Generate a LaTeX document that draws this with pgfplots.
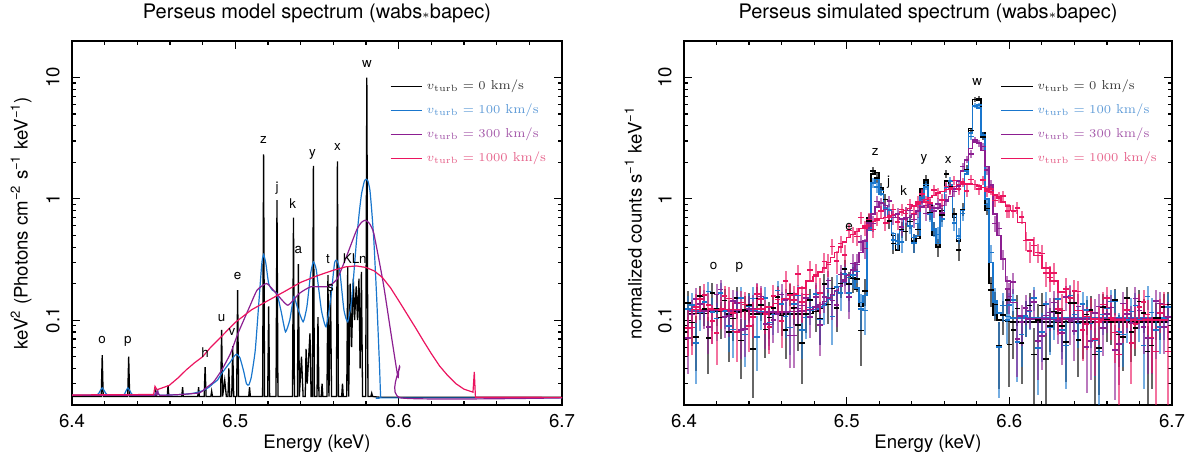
\documentclass[border=0pt]{standalone}
\usepackage{fontspec}
\setsansfont{TeX Gyre Heros}
\usepackage{graphicx}
\usepackage{pgfplots}
\usepackage{pgfplotstable}
\pgfplotsset{compat=1.18}
\definecolor{cblk}{RGB}{0,0,0}
\definecolor{cblu}{RGB}{25,118,205}
\definecolor{cpur}{RGB}{140,30,145}
\definecolor{cpnk}{RGB}{235,20,95}
\definecolor{lblk}{RGB}{60,60,60}
\definecolor{lblu}{RGB}{95,155,215}
\definecolor{lpur}{RGB}{165,90,170}
\definecolor{lpnk}{RGB}{230,100,140}
\tikzset{lbl/.style={font=\sffamily\fontsize{6.7}{8}\selectfont, inner sep=0pt}}

\pgfplotstableread{
x m y e
6.4025 0.113 0.138 0.035
6.4075 0.113 0.073 0.035
6.4125 0.113 0.124 0.035
6.4175 0.118 0.168 0.035
6.4225 0.119 0.105 0.035
6.4275 0.112 0.080 0.035
6.4325 0.117 0.153 0.035
6.4375 0.118 0.122 0.035
6.4425 0.112 0.058 0.035
6.4475 0.112 0.134 0.035
6.4525 0.112 0.105 0.035
6.4575 0.112 0.155 0.035
6.4625 0.112 0.083 0.035
6.4675 0.112 0.126 0.035
6.4725 0.112 0.065 0.035
6.4775 0.114 0.146 0.035
6.48125 0.118 0.118 0.038
6.48375 0.125 0.102 0.039
6.48625 0.135 0.199 0.040
6.48875 0.148 0.135 0.042
6.49125 0.160 0.182 0.044
6.49375 0.172 0.126 0.046
6.49625 0.190 0.200 0.048
6.49875 0.210 0.265 0.050
6.50125 0.235 0.198 0.053
6.50375 0.225 0.220 0.052
6.50625 0.180 0.218 0.047
6.50875 0.130 0.082 0.040
6.51125 0.160 0.175 0.044
6.51375 0.700 0.660 0.092
6.51625 1.600 1.700 0.139
6.51875 1.650 1.490 0.141
6.52125 1.200 1.240 0.120
6.52375 0.850 0.990 0.101
6.52625 0.700 0.660 0.092
6.52875 0.500 0.430 0.078
6.53125 0.380 0.450 0.068
6.53375 0.550 0.560 0.082
6.53625 0.680 0.540 0.091
6.53875 0.600 0.650 0.085
6.54125 0.450 0.435 0.074
6.54375 0.470 0.560 0.075
6.54625 1.200 1.100 0.120
6.54875 1.380 1.430 0.129
6.55125 0.900 0.770 0.104
6.55375 0.500 0.570 0.078
6.55625 0.400 0.400 0.070
6.55875 0.800 0.740 0.098
6.56125 1.400 1.610 0.130
6.56375 1.300 1.260 0.125
6.56625 0.700 0.750 0.092
6.56875 0.450 0.380 0.074
6.57125 0.800 0.820 0.098
6.57375 1.600 1.750 0.139
6.57625 3.800 3.650 0.214
6.57875 6.600 6.570 0.283
6.58125 6.500 6.720 0.280
6.58375 3.500 3.250 0.206
6.58625 0.800 0.830 0.098
6.58875 0.200 0.178 0.049
6.59125 0.110 0.135 0.036
6.59375 0.100 0.062 0.035
6.59625 0.099 0.110 0.035
6.59875 0.098 0.147 0.035
6.6025 0.097 0.083 0.035
6.6075 0.097 0.065 0.035
6.6125 0.097 0.132 0.035
6.6175 0.097 0.100 0.035
6.6225 0.097 0.048 0.030
6.6275 0.097 0.118 0.035
6.6325 0.097 0.090 0.035
6.6375 0.097 0.139 0.035
6.6425 0.097 0.069 0.035
6.6475 0.097 0.111 0.035
6.6525 0.097 0.052 0.035
6.6575 0.097 0.128 0.035
6.6625 0.097 0.097 0.035
6.6675 0.097 0.076 0.035
6.6725 0.097 0.153 0.035
6.6775 0.097 0.086 0.035
6.6825 0.097 0.114 0.035
6.6875 0.097 0.062 0.035
6.6925 0.097 0.104 0.035
6.6975 0.097 0.135 0.035
}\tblack

\pgfplotstableread{
x y e
6.405 0.096 0.035
6.410 0.158 0.035
6.415 0.071 0.035
6.420 0.125 0.035
6.425 0.145 0.035
6.430 0.103 0.035
6.435 0.068 0.035
6.440 0.133 0.035
6.445 0.151 0.035
6.450 0.084 0.035
6.455 0.126 0.035
6.460 0.109 0.035
6.465 0.165 0.035
6.470 0.091 0.035
6.475 0.113 0.035
6.600 0.063 0.035
6.605 0.125 0.035
6.610 0.108 0.035
6.615 0.052 0.035
6.620 0.132 0.035
6.625 0.090 0.035
6.630 0.115 0.035
6.635 0.066 0.035
6.640 0.139 0.035
6.645 0.083 0.035
6.650 0.122 0.035
6.655 0.059 0.035
6.660 0.101 0.035
6.665 0.146 0.035
6.670 0.073 0.035
6.675 0.080 0.035
6.680 0.143 0.035
6.685 0.055 0.035
6.690 0.104 0.035
6.695 0.129 0.035
}\tblackx

\pgfplotstableread{
x m y e
6.4025 0.119 0.123 0.035
6.4075 0.119 0.065 0.035
6.4125 0.120 0.142 0.035
6.4175 0.124 0.117 0.035
6.4225 0.124 0.167 0.035
6.4275 0.119 0.090 0.035
6.4325 0.123 0.137 0.035
6.4375 0.123 0.076 0.035
6.4425 0.119 0.151 0.035
6.4475 0.118 0.118 0.035
6.4525 0.118 0.096 0.035
6.4575 0.118 0.176 0.035
6.4625 0.118 0.107 0.035
6.4675 0.118 0.136 0.035
6.4725 0.119 0.083 0.035
6.4775 0.120 0.127 0.035
6.48125 0.122 0.164 0.038
6.48375 0.128 0.101 0.039
6.48625 0.136 0.132 0.041
6.48875 0.148 0.182 0.042
6.49125 0.160 0.107 0.044
6.49375 0.172 0.188 0.046
6.49625 0.190 0.168 0.048
6.49875 0.205 0.240 0.050
6.50125 0.225 0.168 0.052
6.50375 0.220 0.236 0.052
6.50625 0.185 0.251 0.047
6.50875 0.140 0.124 0.041
6.51125 0.160 0.120 0.044
6.51375 0.550 0.630 0.082
6.51625 1.350 1.360 0.128
6.51875 1.450 1.250 0.132
6.52125 1.100 1.170 0.115
6.52375 0.850 0.830 0.101
6.52625 0.700 0.810 0.092
6.52875 0.520 0.457 0.079
6.53125 0.420 0.448 0.071
6.53375 0.550 0.443 0.082
6.53625 0.680 0.760 0.091
6.53875 0.600 0.600 0.085
6.54125 0.480 0.434 0.076
6.54375 0.500 0.625 0.078
6.54625 1.050 1.016 0.113
6.54875 1.250 1.310 0.123
6.55125 0.850 0.750 0.101
6.55375 0.550 0.566 0.082
6.55625 0.430 0.510 0.072
6.55875 0.750 0.680 0.095
6.56125 1.250 1.240 0.123
6.56375 1.300 1.400 0.125
6.56625 0.750 0.636 0.095
6.56875 0.470 0.496 0.075
6.57125 0.800 0.756 0.098
6.57375 1.600 1.700 0.139
6.57625 3.500 3.270 0.206
6.57875 5.800 5.880 0.265
6.58125 5.600 5.960 0.260
6.58375 3.400 3.320 0.203
6.58625 1.000 0.900 0.110
6.58875 0.300 0.360 0.060
6.59125 0.140 0.144 0.041
6.59375 0.115 0.060 0.037
6.59625 0.110 0.132 0.036
6.59875 0.107 0.100 0.036
6.6025 0.104 0.146 0.035
6.6075 0.104 0.076 0.035
6.6125 0.104 0.118 0.035
6.6175 0.104 0.059 0.035
6.6225 0.104 0.136 0.035
6.6275 0.104 0.104 0.035
6.6325 0.104 0.083 0.035
6.6375 0.104 0.160 0.035
6.6425 0.104 0.094 0.035
6.6475 0.104 0.122 0.035
6.6525 0.104 0.069 0.035
6.6575 0.104 0.111 0.035
6.6625 0.104 0.143 0.035
6.6675 0.104 0.080 0.035
6.6725 0.104 0.100 0.035
6.6775 0.104 0.132 0.035
6.6825 0.104 0.062 0.035
6.6875 0.104 0.116 0.035
6.6925 0.104 0.088 0.035
6.6975 0.104 0.129 0.035
}\tblue

\pgfplotstableread{
x y e
6.405 0.133 0.035
6.410 0.116 0.035
6.415 0.172 0.035
6.420 0.103 0.035
6.425 0.119 0.035
6.430 0.084 0.035
6.435 0.152 0.035
6.440 0.130 0.035
6.445 0.073 0.035
6.450 0.153 0.035
6.455 0.111 0.035
6.460 0.136 0.035
6.465 0.087 0.035
6.470 0.160 0.035
6.475 0.105 0.035
6.600 0.133 0.035
6.605 0.066 0.035
6.610 0.108 0.035
6.615 0.153 0.035
6.620 0.080 0.035
6.625 0.087 0.035
6.630 0.150 0.035
6.635 0.062 0.035
6.640 0.111 0.035
6.645 0.136 0.035
6.650 0.094 0.035
6.655 0.055 0.035
6.660 0.125 0.035
6.665 0.143 0.035
6.670 0.076 0.035
6.675 0.118 0.035
6.680 0.101 0.035
6.685 0.157 0.035
6.690 0.083 0.035
6.695 0.104 0.035
}\tbluex

\pgfplotstableread{
x m y e
6.4025 0.118 0.071 0.035
6.4075 0.118 0.150 0.035
6.4125 0.119 0.119 0.035
6.4175 0.121 0.099 0.035
6.4225 0.121 0.179 0.035
6.4275 0.119 0.108 0.035
6.4325 0.121 0.139 0.035
6.4375 0.121 0.085 0.035
6.4425 0.118 0.125 0.035
6.4475 0.117 0.157 0.035
6.4525 0.117 0.092 0.035
6.4575 0.117 0.113 0.035
6.4625 0.117 0.146 0.035
6.4675 0.118 0.075 0.035
6.4725 0.119 0.132 0.035
6.4775 0.122 0.106 0.035
6.48125 0.128 0.155 0.039
6.48375 0.135 0.091 0.040
6.48625 0.143 0.156 0.042
6.48875 0.152 0.212 0.043
6.49125 0.163 0.145 0.044
6.49375 0.175 0.134 0.046
6.49625 0.190 0.238 0.048
6.49875 0.210 0.215 0.050
6.50125 0.235 0.155 0.053
6.50375 0.260 0.294 0.056
6.50625 0.300 0.288 0.060
6.50875 0.360 0.439 0.066
6.51125 0.450 0.391 0.074
6.51375 0.600 0.634 0.085
6.51625 0.750 0.627 0.095
6.51875 0.860 0.952 0.102
6.52125 0.920 0.920 0.105
6.52375 0.880 0.818 0.103
6.52625 0.800 0.957 0.098
6.52875 0.730 0.702 0.094
6.53125 0.700 0.746 0.092
6.53375 0.680 0.589 0.091
6.53625 0.680 0.698 0.091
6.53875 0.700 0.801 0.092
6.54125 0.740 0.674 0.095
6.54375 0.800 0.790 0.098
6.54625 0.860 0.942 0.102
6.54875 0.880 0.756 0.103
6.55125 0.860 0.896 0.102
6.55375 0.840 0.795 0.101
6.55625 0.840 0.911 0.101
6.55875 0.880 0.767 0.103
6.56125 0.950 0.982 0.107
6.56375 1.050 1.208 0.113
6.56625 1.200 1.152 0.120
6.56875 1.400 1.283 0.130
6.57125 1.700 1.843 0.143
6.57375 2.100 2.116 0.159
6.57625 2.600 2.335 0.177
6.57875 2.950 3.063 0.189
6.58125 2.900 2.863 0.187
6.58375 2.500 2.709 0.174
6.58625 1.850 1.730 0.150
6.58875 1.250 1.300 0.123
6.59125 0.750 0.627 0.095
6.59375 0.500 0.570 0.078
6.59625 0.320 0.320 0.062
6.59875 0.210 0.180 0.050
6.6025 0.140 0.206 0.041
6.6075 0.108 0.097 0.036
6.6125 0.102 0.120 0.035
6.6175 0.102 0.067 0.035
6.6225 0.102 0.109 0.035
6.6275 0.102 0.140 0.035
6.6325 0.102 0.078 0.035
6.6375 0.102 0.098 0.035
6.6425 0.102 0.130 0.035
6.6475 0.102 0.060 0.035
6.6525 0.102 0.114 0.035
6.6575 0.102 0.086 0.035
6.6625 0.102 0.127 0.035
6.6675 0.102 0.064 0.035
6.6725 0.102 0.113 0.035
6.6775 0.102 0.151 0.035
6.6825 0.102 0.088 0.035
6.6875 0.102 0.071 0.035
6.6925 0.102 0.137 0.035
6.6975 0.102 0.106 0.035
}\tpurple

\pgfplotstableread{
x y e
6.405 0.111 0.035
6.410 0.136 0.035
6.415 0.088 0.035
6.420 0.163 0.035
6.425 0.106 0.035
6.430 0.144 0.035
6.435 0.083 0.035
6.440 0.124 0.035
6.445 0.166 0.035
6.450 0.093 0.035
6.455 0.100 0.035
6.460 0.163 0.035
6.465 0.075 0.035
6.470 0.125 0.035
6.475 0.152 0.035
6.600 0.157 0.045
6.605 0.070 0.036
6.610 0.126 0.035
6.615 0.141 0.035
6.620 0.074 0.035
6.625 0.116 0.035
6.630 0.099 0.035
6.635 0.155 0.035
6.640 0.081 0.035
6.645 0.102 0.035
6.650 0.067 0.035
6.655 0.130 0.035
6.660 0.113 0.035
6.665 0.057 0.035
6.670 0.137 0.035
6.675 0.095 0.035
6.680 0.120 0.035
6.685 0.071 0.035
6.690 0.144 0.035
6.695 0.088 0.035
}\tpurplex

\pgfplotstableread{
x m y e
6.4025 0.122 0.086 0.035
6.4075 0.122 0.129 0.035
6.4125 0.122 0.162 0.035
6.4175 0.124 0.099 0.035
6.4225 0.124 0.120 0.035
6.4275 0.122 0.151 0.035
6.4325 0.123 0.080 0.035
6.4375 0.122 0.135 0.035
6.4425 0.122 0.106 0.035
6.4475 0.124 0.149 0.035
6.4525 0.128 0.088 0.035
6.4575 0.137 0.148 0.038
6.4625 0.150 0.210 0.043
6.4675 0.165 0.147 0.045
6.4725 0.185 0.142 0.048
6.4775 0.210 0.260 0.050
6.48125 0.230 0.235 0.053
6.48375 0.250 0.168 0.055
6.48625 0.270 0.304 0.057
6.48875 0.300 0.288 0.060
6.49125 0.330 0.406 0.063
6.49375 0.360 0.307 0.066
6.49625 0.400 0.428 0.070
6.49875 0.440 0.345 0.073
6.50125 0.480 0.548 0.076
6.50375 0.510 0.510 0.079
6.50625 0.540 0.491 0.081
6.50875 0.570 0.703 0.083
6.51125 0.600 0.575 0.085
6.51375 0.630 0.674 0.087
6.51625 0.650 0.561 0.089
6.51875 0.670 0.688 0.090
6.52125 0.690 0.790 0.091
6.52375 0.700 0.636 0.092
6.52625 0.720 0.711 0.093
6.52875 0.740 0.816 0.095
6.53125 0.760 0.645 0.096
6.53375 0.780 0.814 0.097
6.53625 0.800 0.756 0.098
6.53875 0.830 0.900 0.100
6.54125 0.870 0.757 0.103
6.54375 0.910 0.942 0.105
6.54625 0.950 1.100 0.107
6.54875 0.990 0.946 0.109
6.55125 1.030 0.929 0.112
6.55375 1.070 1.184 0.114
6.55625 1.110 1.122 0.116
6.55875 1.150 0.973 0.118
6.56125 1.190 1.262 0.120
6.56375 1.230 1.206 0.122
6.56625 1.270 1.419 0.124
6.56875 1.300 1.200 0.125
6.57125 1.320 1.370 0.126
6.57375 1.330 1.165 0.127
6.57625 1.330 1.444 0.127
6.57875 1.310 1.310 0.126
6.58125 1.280 1.206 0.124
6.58375 1.240 1.435 0.122
6.58625 1.200 1.164 0.120
6.58875 1.140 1.199 0.117
6.59125 1.080 0.966 0.114
6.59375 1.010 1.032 0.110
6.59625 0.940 1.058 0.107
6.59875 0.870 0.798 0.103
6.6025 0.800 0.790 0.098
6.6075 0.640 0.710 0.088
6.6125 0.460 0.370 0.075
6.6175 0.340 0.362 0.064
6.6225 0.270 0.244 0.057
6.6275 0.210 0.245 0.050
6.6325 0.170 0.120 0.045
6.6375 0.140 0.152 0.041
6.6425 0.120 0.173 0.038
6.6475 0.107 0.093 0.036
6.6525 0.102 0.070 0.035
6.6575 0.100 0.135 0.035
6.6625 0.100 0.104 0.035
6.6675 0.100 0.052 0.035
6.6725 0.100 0.121 0.035
6.6775 0.100 0.093 0.035
6.6825 0.100 0.142 0.035
6.6875 0.100 0.072 0.035
6.6925 0.100 0.114 0.035
6.6975 0.100 0.055 0.035
}\tpink

\pgfplotstableread{
x y e
6.405 0.087 0.035
6.410 0.150 0.035
6.415 0.134 0.035
6.420 0.078 0.035
6.425 0.158 0.035
6.430 0.115 0.035
6.435 0.140 0.035
6.440 0.090 0.035
6.445 0.165 0.035
6.450 0.112 0.035
6.455 0.158 0.037
6.460 0.099 0.040
6.465 0.161 0.043
6.470 0.239 0.046
6.475 0.163 0.049
6.600 0.800 0.101
6.605 0.841 0.093
6.610 0.452 0.082
6.615 0.414 0.070
6.620 0.354 0.060
6.625 0.224 0.054
6.630 0.123 0.048
6.635 0.181 0.043
6.640 0.174 0.040
6.645 0.083 0.037
6.650 0.118 0.035
6.655 0.097 0.035
6.660 0.153 0.035
6.665 0.079 0.035
6.670 0.100 0.035
6.675 0.065 0.035
6.680 0.128 0.035
6.685 0.111 0.035
6.690 0.055 0.035
6.695 0.135 0.035
}\tpinkx

\pgfplotsset{
  every axis/.append style={
    scale only axis, height=182pt,
    xmin=6.4, xmax=6.7, ymode=log, ymin=0.02, ymax=20,
    xtick={6.4,6.5,6.6,6.7}, xticklabels={6.4,6.5,6.6,6.7},
    minor xtick={6.42,6.44,6.46,6.48,6.52,6.54,6.56,6.58,6.62,6.64,6.66,6.68},
    ytick={0.1,1,10},
    yticklabels={\rotatebox{90}{0.1},\rotatebox{90}{1},\rotatebox{90}{10}},
    minor ytick={0.03,0.04,0.05,0.06,0.07,0.08,0.09,0.2,0.3,0.4,0.5,0.6,0.7,0.8,0.9,2,3,4,5,6,7,8,9},
    tick align=inside, major tick length=4pt, minor tick length=2pt,
    tick style={black, line width=0.6pt},
    axis line style={line width=1pt},
    tick label style={font=\sffamily\fontsize{9.3}{11}\selectfont},
    label style={font=\sffamily\fontsize{9.3}{11}\selectfont},
    xticklabel style={anchor=center, yshift=-8pt},
    yticklabel style={anchor=center, xshift=-9.5pt},
    xlabel style={at={(axis description cs:0.5,-0.107)}, anchor=center},
    ylabel style={at={(axis description cs:-0.104,0.5)}, anchor=center},
    legend style={at={(0.648,0.905)}, anchor=north west, draw=none, fill=none,
      inner sep=0pt, font=\rmfamily\fontsize{6.5}{7.5}\selectfont, row sep=1.6pt},
    legend cell align=left,
    legend image code/.code={\draw[#1] (0pt,0pt) -- (15.8pt,0pt);},
  }
}

\begin{document}
\begin{tikzpicture}
\useasboundingbox (0,0) rectangle (599pt,229.5pt);

\node[font=\sffamily\fontsize{10}{12}\selectfont] at (158.5pt,223pt)
  {Perseus model spectrum (wabs{\fontsize{6.5}{6.5}\selectfont$\ast$}bapec)};
\node[font=\sffamily\fontsize{10}{12}\selectfont] at (464pt,223pt)
  {Perseus simulated spectrum (wabs{\fontsize{6.5}{6.5}\selectfont$\ast$}bapec)};

% ---------------- left panel ----------------
\begin{axis}[at={(36pt,27pt)}, anchor=south west, width=245pt,
  xlabel={Energy (keV)},
  ylabel={keV\textsuperscript{2} (Photons cm\textsuperscript{−2} s\textsuperscript{−1} keV\textsuperscript{−1})}]

\addlegendimage{cblk, line width=0.6pt}
\addlegendentry{\textcolor{lblk}{$v_{\mathrm{turb}}=0$ km/s}}
\addlegendimage{cblu, line width=0.6pt}
\addlegendentry{\textcolor{lblu}{$v_{\mathrm{turb}}=100$ km/s}}
\addlegendimage{cpur, line width=0.6pt}
\addlegendentry{\textcolor{lpur}{$v_{\mathrm{turb}}=300$ km/s}}
\addlegendimage{cpnk, line width=0.6pt}
\addlegendentry{\textcolor{lpnk}{$v_{\mathrm{turb}}=1000$ km/s}}

% black: 0 km/s
\addplot[cblk, line width=0.65pt, forget plot] coordinates {
(6.4000,0.0235)(6.4179,0.0235)(6.4185,0.0515)(6.4191,0.0235)
(6.4341,0.0235)(6.4347,0.050)(6.4353,0.0235)
(6.4508,0.0235)(6.4513,0.026)(6.4518,0.0235)
(6.4583,0.0235)(6.4588,0.029)(6.4593,0.0235)
(6.4672,0.0235)(6.4677,0.028)(6.4682,0.0235)
(6.4770,0.0235)(6.4775,0.028)(6.4780,0.0235)
(6.4809,0.0235)(6.4815,0.041)(6.4821,0.0235)
(6.4850,0.0235)(6.4855,0.026)(6.4860,0.0235)
(6.4910,0.0235)(6.4916,0.083)(6.4922,0.0235)(6.4935,0.032)(6.4945,0.0235)
(6.4955,0.0235)(6.4960,0.040)(6.4966,0.0235)
(6.4978,0.0235)(6.4984,0.061)(6.4990,0.0235)
(6.5008,0.0235)(6.5014,0.177)(6.5020,0.0235)
(6.5082,0.0235)(6.5087,0.028)(6.5092,0.0235)
(6.5167,0.0235)(6.5173,2.33)(6.5179,0.0235)
(6.5198,0.0235)(6.5204,0.13)(6.5210,0.0235)
(6.5249,0.0235)(6.5255,0.975)(6.5261,0.0235)
(6.5350,0.0235)(6.5356,0.70)(6.5362,0.0235)
(6.5380,0.0235)(6.5386,0.29)(6.5392,0.0235)(6.5405,0.05)(6.5415,0.0235)
(6.5428,0.0235)(6.5433,0.058)(6.5440,0.03)(6.5457,0.078)(6.5464,0.0235)
(6.5472,0.0235)(6.5478,1.87)(6.5484,0.0235)
(6.5500,0.0235)(6.5506,0.106)(6.5512,0.0235)
(6.5526,0.0235)(6.5531,0.03)(6.5536,0.0235)
(6.5561,0.0235)(6.5567,0.235)(6.5573,0.0235)(6.5583,0.177)(6.5589,0.0235)
(6.5619,0.0235)(6.5625,2.04)(6.5631,0.0235)
(6.5651,0.0235)(6.5656,0.03)(6.5661,0.0235)
(6.5682,0.0235)(6.5688,0.275)(6.5694,0.0235)(6.5703,0.20)(6.5712,0.06)(6.5722,0.22)(6.5730,0.10)
(6.5740,0.19)(6.5748,0.10)(6.5757,0.22)(6.5764,0.04)(6.5772,0.25)(6.5779,0.0235)
(6.5798,0.0235)(6.5805,10.0)(6.5812,0.0235)
(6.5830,0.0235)(6.5835,0.025)(6.5840,0.0235)
(6.5880,0.0232)(6.7000,0.0232)};

% blue: 100 km/s
\addplot[cblu, line width=0.6pt, smooth, tension=0.3, forget plot] coordinates {
(6.4000,0.0241)(6.4150,0.0241)(6.4169,0.0257)(6.4185,0.0277)(6.4201,0.0257)(6.4220,0.0241)
(6.4314,0.0241)(6.4328,0.0257)(6.4342,0.0277)(6.4358,0.0257)(6.4375,0.0241)
(6.4501,0.0241)(6.4513,0.0252)(6.4525,0.0257)(6.4536,0.0241)(6.4665,0.0244)(6.4735,0.0249)
(6.4782,0.0257)(6.4815,0.0268)(6.4841,0.0282)(6.4864,0.0301)(6.4890,0.0320)(6.4916,0.0363)
(6.4946,0.0412)(6.4970,0.0454)(6.4993,0.0505)(6.5009,0.0525)(6.5028,0.0490)(6.5051,0.0380)
(6.5068,0.0300)(6.5082,0.0292)(6.5098,0.0341)(6.5122,0.0566)(6.5145,0.146)(6.5162,0.293)
(6.5173,0.348)(6.5187,0.293)(6.5204,0.2005)(6.5227,0.1767)(6.5255,0.1659)(6.5281,0.1171)
(6.5307,0.0801)(6.5333,0.1)(6.5358,0.1557)(6.5379,0.1288)(6.5415,0.0969)(6.5438,0.1288)
(6.5461,0.2425)(6.5478,0.3026)(6.5496,0.2583)(6.5527,0.1209)(6.5555,0.0881)(6.5583,0.1462)
(6.5607,0.2931)(6.5621,0.3123)(6.5639,0.2583)(6.5665,0.1209)(6.5688,0.0969)(6.5712,0.1462)
(6.5742,0.4563)(6.5760,0.80)(6.5773,1.106)(6.5790,1.40)(6.5801,1.452)(6.5812,1.40)(6.5824,1.179)
(6.5835,0.80)(6.5848,0.4563)(6.5866,0.1462)(6.5883,0.0412)(6.5890,0.0233)(6.5906,0.0229)(6.7,0.0229)};

% purple: 300 km/s
\addplot[cpur, line width=0.6pt, smooth, tension=0.3, forget plot] coordinates {
(6.4,0.0241)(6.4501,0.0241)(6.4513,0.0252)(6.4525,0.0262)(6.4536,0.0241)(6.4665,0.0244)
(6.4782,0.0252)(6.4815,0.0273)(6.4867,0.0310)(6.4916,0.0387)(6.4970,0.0531)(6.5016,0.0777)
(6.5087,0.1288)(6.5133,0.1767)(6.5192,0.2005)(6.5251,0.1659)(6.5321,0.1329)(6.5391,0.1659)
(6.5461,0.1883)(6.5555,0.1883)(6.5583,0.1943)(6.5625,0.2205)(6.5672,0.3123)(6.5742,0.5518)
(6.5772,0.64)(6.5796,0.6672)(6.5820,0.63)(6.5848,0.5179)(6.5906,0.2005)(6.5953,0.0777)
(6.5995,0.0341)(6.6000,0.0387)(6.6007,0.0412)(6.6014,0.0229)(6.7,0.0229)};

% pink: 1000 km/s
\addplot[cpnk, line width=0.6pt, forget plot] coordinates {
(6.400,0.0242)(6.4500,0.0244)(6.4508,0.0285)(6.4520,0.0268)(6.4530,0.027)(6.4595,0.029)
(6.4650,0.0335)(6.4700,0.039)(6.4750,0.0445)(6.4800,0.050)(6.4850,0.060)(6.4900,0.070)
(6.4950,0.082)(6.5000,0.096)(6.5100,0.122)(6.5200,0.145)(6.5300,0.172)(6.5400,0.205)
(6.5500,0.232)(6.5600,0.258)(6.5675,0.275)(6.5740,0.280)(6.5800,0.272)(6.5850,0.255)
(6.5900,0.225)(6.5950,0.185)(6.6000,0.145)(6.6050,0.113)(6.6100,0.088)(6.6150,0.068)
(6.6200,0.053)(6.6250,0.042)(6.6300,0.035)(6.6350,0.030)(6.6400,0.027)(6.6455,0.0255)
(6.6463,0.0375)(6.6470,0.0232)(6.7,0.0231)};

\node[lbl] at (axis cs:6.4185,0.0684) {o};
\node[lbl] at (axis cs:6.4342,0.0663) {p};
\node[lbl] at (axis cs:6.4815,0.0538) {h};
\node[lbl] at (axis cs:6.4916,0.1032) {u};
\node[lbl] at (axis cs:6.4979,0.080) {v};
\node[lbl] at (axis cs:6.5014,0.2306) {e};
\node[lbl] at (axis cs:6.5173,3.04) {z};
\node[lbl] at (axis cs:6.5255,1.216) {j};
\node[lbl] at (axis cs:6.5351,0.915) {k};
\node[lbl] at (axis cs:6.5386,0.377) {a};
\node[lbl] at (axis cs:6.5473,2.33) {y};
\node[lbl] at (axis cs:6.5567,0.318) {t};
\node[lbl] at (axis cs:6.5583,0.186) {s};
\node[lbl] at (axis cs:6.5625,2.68) {x};
\node[lbl] at (axis cs:6.5731,0.322) {KLn};
\node[lbl] at (axis cs:6.5806,13.0) {w};
\end{axis}

% ---------------- right panel ----------------
\begin{axis}[at={(342pt,27pt)}, anchor=south west, width=244pt,
  xlabel={Energy (keV)},
  ylabel={normalized counts s\textsuperscript{−1} keV\textsuperscript{−1}}]

\addlegendimage{cblk, line width=0.6pt}
\addlegendentry{\textcolor{lblk}{$v_{\mathrm{turb}}=0$ km/s}}
\addlegendimage{cblu, line width=0.6pt}
\addlegendentry{\textcolor{lblu}{$v_{\mathrm{turb}}=100$ km/s}}
\addlegendimage{cpur, line width=0.6pt}
\addlegendentry{\textcolor{lpur}{$v_{\mathrm{turb}}=300$ km/s}}
\addlegendimage{cpnk, line width=0.6pt}
\addlegendentry{\textcolor{lpnk}{$v_{\mathrm{turb}}=1000$ km/s}}

\addplot[cblk, const plot mark mid, line width=0.75pt, forget plot] table[x=x, y=m] {\tblack};
\addplot[cblk, only marks, mark=-, mark size=1.4pt, mark options={line width=0.8pt}, forget plot,
  error bars/.cd, y dir=both, y explicit, error mark=none, error bar style={line width=1pt, opacity=0.6}]
  table[x=x, y=y, y error=e] {\tblack};
\addplot[cblk, only marks, mark=-, mark size=1.4pt, mark options={line width=0.8pt}, forget plot,
  error bars/.cd, y dir=both, y explicit, error mark=none, error bar style={line width=1pt, opacity=0.6}]
  table[x=x, y=y, y error=e] {\tblackx};
\addplot[cblu, const plot mark mid, line width=0.75pt, forget plot] table[x=x, y=m] {\tblue};
\addplot[cblu, only marks, mark=-, mark size=1.4pt, mark options={line width=0.8pt}, forget plot,
  error bars/.cd, y dir=both, y explicit, error mark=none, error bar style={line width=1pt, opacity=0.6}]
  table[x=x, y=y, y error=e] {\tblue};
\addplot[cblu, only marks, mark=-, mark size=1.4pt, mark options={line width=0.8pt}, forget plot,
  error bars/.cd, y dir=both, y explicit, error mark=none, error bar style={line width=1pt, opacity=0.6}]
  table[x=x, y=y, y error=e] {\tbluex};
\addplot[cpur, const plot mark mid, line width=0.75pt, forget plot] table[x=x, y=m] {\tpurple};
\addplot[cpur, only marks, mark=-, mark size=1.4pt, mark options={line width=0.8pt}, forget plot,
  error bars/.cd, y dir=both, y explicit, error mark=none, error bar style={line width=1pt, opacity=0.6}]
  table[x=x, y=y, y error=e] {\tpurple};
\addplot[cpur, only marks, mark=-, mark size=1.4pt, mark options={line width=0.8pt}, forget plot,
  error bars/.cd, y dir=both, y explicit, error mark=none, error bar style={line width=1pt, opacity=0.6}]
  table[x=x, y=y, y error=e] {\tpurplex};
\addplot[cpnk, const plot mark mid, line width=0.75pt, forget plot] table[x=x, y=m] {\tpink};
\addplot[cpnk, only marks, mark=-, mark size=1.4pt, mark options={line width=0.8pt}, forget plot,
  error bars/.cd, y dir=both, y explicit, error mark=none, error bar style={line width=1pt, opacity=0.6}]
  table[x=x, y=y, y error=e] {\tpink};
\addplot[cpnk, only marks, mark=-, mark size=1.4pt, mark options={line width=0.8pt}, forget plot,
  error bars/.cd, y dir=both, y explicit, error mark=none, error bar style={line width=1pt, opacity=0.6}]
  table[x=x, y=y, y error=e] {\tpinkx};

\node[lbl] at (axis cs:6.4182,0.28) {o};
\node[lbl] at (axis cs:6.4340,0.275) {p};
\node[lbl] at (axis cs:6.5015,0.59) {e};
\node[lbl] at (axis cs:6.5176,2.43) {z};
\node[lbl] at (axis cs:6.5258,1.38) {j};
\node[lbl] at (axis cs:6.5351,1.17) {k};
\node[lbl] at (axis cs:6.5475,2.1) {y};
\node[lbl] at (axis cs:6.5625,2.1) {x};
\node[lbl] at (axis cs:6.5803,9.1) {w};
\end{axis}
\end{tikzpicture}
\end{document}
